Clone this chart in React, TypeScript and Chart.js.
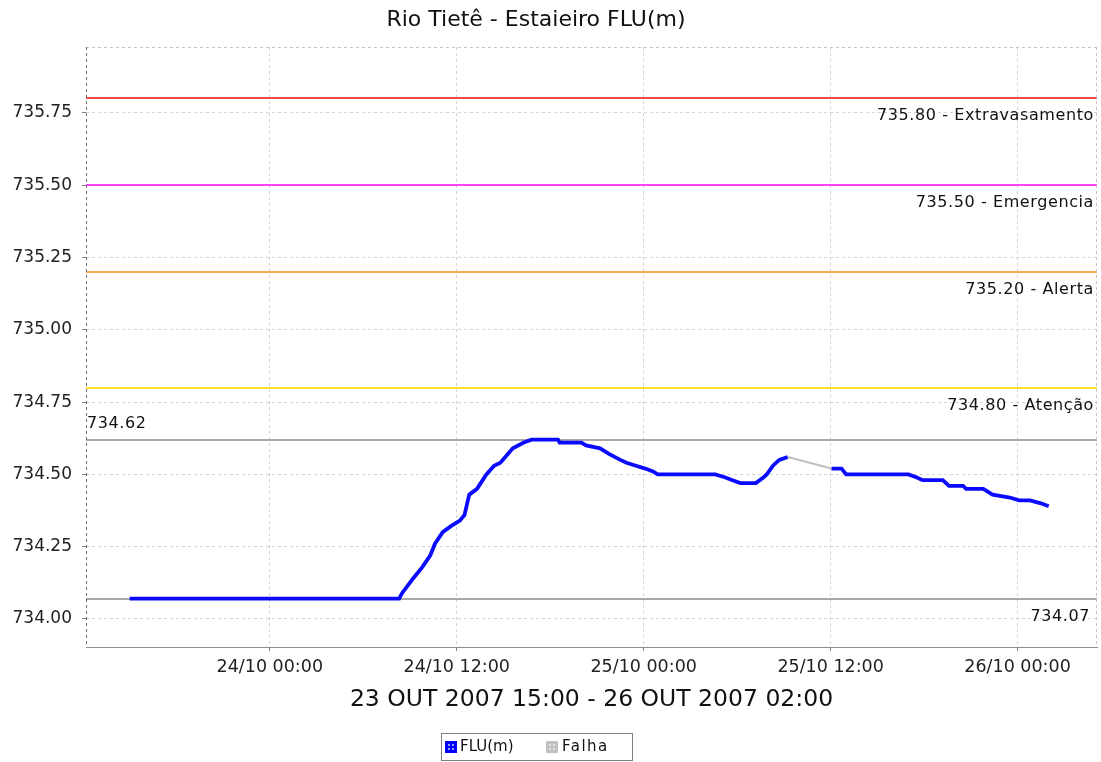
import React, { useEffect, useRef } from "react";
import { Chart, registerables } from "chart.js";

Chart.register(...registerables);

const chartTitle = "Rio Tietê - Estaieiro FLU(m)";
const xAxisTitle = "23 OUT 2007 15:00 - 26 OUT 2007 02:00";

// Hours relative to 24/10/2007 00:00
const fluHours = [
  -9, 8.3, 8.5, 9.2, 9.8, 10.3, 10.6, 11.1, 11.6, 12.2, 12.5, 12.8, 13.3, 13.9, 14.4, 14.8,
  15.6, 16.3, 16.8, 18.5, 18.6, 20.0, 20.3, 21.2, 21.8, 22.5, 22.9, 23.5, 24.1, 24.6, 24.9,
  28.6, 29.2, 29.7, 30.2, 31.2, 31.7, 31.9, 32.3, 32.7, 33.25, 34.6, 36.05, 36.7, 37.0,
  41.0, 41.5, 41.9, 43.2, 43.6, 44.5, 44.7, 45.8, 46.4, 47.5, 48.1, 48.8, 49.5, 50.0,
];
const fluValues = [
  734.07, 734.07, 734.09, 734.14, 734.18, 734.22, 734.26, 734.3, 734.32, 734.34, 734.36, 734.43,
  734.45, 734.5, 734.53, 734.54, 734.59, 734.61, 734.62, 734.62, 734.61, 734.61, 734.6, 734.59,
  734.57, 734.55, 734.54, 734.53, 734.52, 734.51, 734.5, 734.5, 734.49, 734.48, 734.47, 734.47,
  734.49, 734.5, 734.53, 734.55, 734.56, null, 734.52, 734.52, 734.5, 734.5, 734.49, 734.48,
  734.48, 734.46, 734.46, 734.45, 734.45, 734.43, 734.42, 734.41, 734.41, 734.4, 734.39,
];
const falhaHours = [33.25, 36.05];
const falhaValues = [734.56, 734.52];

const xTickHours = [0, 12, 24, 36, 48];
const xTickLabels = ["24/10 00:00", "24/10 12:00", "25/10 00:00", "25/10 12:00", "26/10 00:00"];
const yTickValues = [734.0, 734.25, 734.5, 734.75, 735.0, 735.25, 735.5, 735.75];

const thresholdValues = [735.8, 735.5, 735.2, 734.8];
const thresholdNames = ["Extravasamento", "Emergencia", "Alerta", "Atenção"];
const thresholdColors = ["#f04848", "#ff40ff", "#ffa858", "#ffe030"];
const maxObserved = 734.62;
const minObserved = 734.07;

const legendNames = ["FLU(m)", "Falha"];
const legendColors = ["#0000ff", "#c0c0c0"];

const FONT = '"DejaVu Sans", sans-serif';

const overlayPlugin = {
  id: "overlay",
  beforeDatasetsDraw(chart: any) {
    const { ctx, chartArea: a, scales } = chart;
    const y = scales.y;
    ctx.save();
    ctx.font = `16px ${FONT}`;
    (ctx as any).letterSpacing = "0.6px";
    ctx.textBaseline = "middle";
    thresholdValues.forEach((v, i) => {
      const py = Math.round(y.getPixelForValue(v));
      ctx.strokeStyle = thresholdColors[i];
      ctx.lineWidth = 2;
      ctx.beginPath();
      ctx.moveTo(a.left, py);
      ctx.lineTo(a.right, py);
      ctx.stroke();
      ctx.fillStyle = "#111";
      ctx.textAlign = "right";
      ctx.fillText(`${v.toFixed(2)} - ${thresholdNames[i]}`, a.right - 3, py + 18);
    });
    // max / min observed
    [maxObserved, minObserved].forEach((v, i) => {
      const py = Math.round(y.getPixelForValue(v));
      ctx.strokeStyle = "#a8a8a8";
      ctx.lineWidth = 2;
      ctx.beginPath();
      ctx.moveTo(a.left, py);
      ctx.lineTo(a.right, py);
      ctx.stroke();
      ctx.fillStyle = "#111";
      if (i === 0) {
        ctx.textAlign = "left";
        ctx.fillText(v.toFixed(2), a.left + 1, py - 16);
      } else {
        ctx.textAlign = "right";
        ctx.fillText(v.toFixed(2), a.right - 7, py + 18);
      }
    });
    ctx.restore();
  },
  afterDraw(chart: any) {
    const { ctx, chartArea: a } = chart;
    ctx.save();
    // plot outline (dashed)
    ctx.setLineDash([3, 3]);
    ctx.lineWidth = 1;
    ctx.strokeStyle = "#c4c4c4";
    ctx.beginPath();
    ctx.moveTo(a.left, a.top + 0.5);
    ctx.lineTo(a.right, a.top + 0.5);
    ctx.moveTo(a.right - 0.5, a.top);
    ctx.lineTo(a.right - 0.5, a.bottom);
    ctx.stroke();
    ctx.strokeStyle = "#707070";
    ctx.beginPath();
    ctx.moveTo(a.left + 0.5, a.top);
    ctx.lineTo(a.left + 0.5, a.bottom);
    ctx.stroke();
    ctx.setLineDash([]);

    // title
    ctx.fillStyle = "#111";
    ctx.textAlign = "center";
    ctx.textBaseline = "middle";
    ctx.font = `22px ${FONT}`;
    ctx.fillText(chartTitle, 536, 20);

    // x axis title
    ctx.font = `23.5px ${FONT}`;
    ctx.fillText(xAxisTitle, (a.left + a.right) / 2, 700);

    // legend
    const lx = 441, ly = 733, lw = 191, lh = 27;
    ctx.fillStyle = "#fff";
    ctx.fillRect(lx, ly, lw, lh);
    ctx.strokeStyle = "#808080";
    ctx.lineWidth = 1;
    ctx.strokeRect(lx + 0.5, ly + 0.5, lw, lh);
    const iconX = [445, 546];
    const textX = [460, 562];
    ctx.font = `15px ${FONT}`;
    ctx.textAlign = "left";
    legendNames.forEach((name, i) => {
      ctx.fillStyle = legendColors[i];
      ctx.fillRect(iconX[i], ly + 8, 12, 12);
      ctx.fillStyle = i === 0 ? "#9999ff" : "#e4e4e4";
      for (const dx of [3, 7]) for (const dy of [3, 7]) ctx.fillRect(iconX[i] + dx, ly + 8 + dy, 2, 2);
      ctx.fillStyle = "#111";
      (ctx as any).letterSpacing = i === 1 ? "1.5px" : "0px";
      ctx.fillText(name, textX[i], ly + 14);
    });
    ctx.restore();
  },
};

export default function App() {
  const canvasRef = useRef<HTMLCanvasElement>(null);

  useEffect(() => {
    if (!canvasRef.current) return;
    const fluData = fluHours.map((h, i) => ({ x: h, y: fluValues[i] }));
    const falhaData = falhaHours.map((h, i) => ({ x: h, y: falhaValues[i] }));

    const chart = new Chart(canvasRef.current, {
      type: "line",
      data: {
        datasets: [
          {
            label: "Falha",
            data: falhaData,
            borderColor: "#c0c0c0",
            borderWidth: 2,
            pointRadius: 0,
            fill: false,
          },
          {
            label: "FLU(m)",
            data: fluData as any,
            borderColor: "#0a0aff",
            borderWidth: 3.8,
            pointRadius: 0,
            spanGaps: false,
            fill: false,
          },
          {
            label: "FLU(m) texture",
            data: fluData as any,
            borderColor: "rgba(190,190,255,0.9)",
            borderWidth: 1,
            borderDash: [1, 4],
            pointRadius: 0,
            spanGaps: false,
            fill: false,
          },
        ],
      },
      options: {
        animation: false,
        responsive: false,
        devicePixelRatio: 1,
        layout: { padding: { top: 47, left: 0, right: 4, bottom: 0 } },
        plugins: {
          legend: { display: false },
          title: { display: false },
          tooltip: { enabled: false },
        },
        scales: {
          x: {
            type: "linear",
            min: -11.8,
            max: 53.1,
            afterBuildTicks: (s: any) => {
              s.ticks = xTickHours.map((v) => ({ value: v }));
            },
            afterFit: (s: any) => {
              s.height = 115;
            },
            ticks: {
              autoSkip: false,
              maxRotation: 0,
              padding: 6,
              color: "#222",
              font: { family: FONT, size: 17.5 },
              callback: (v: any) => xTickLabels[xTickHours.indexOf(Number(v))] ?? "",
            },
            grid: { color: "#d4d4d4", tickColor: "#808080", tickLength: 4 },
            border: { display: true, color: "#8c8c8c", width: 1, dash: [3, 3] },
          },
          y: {
            type: "linear",
            min: 733.903,
            max: 735.978,
            afterBuildTicks: (s: any) => {
              s.ticks = yTickValues.map((v) => ({ value: v }));
            },
            afterFit: (s: any) => {
              s.width = 86;
            },
            ticks: {
              padding: 10,
              color: "#222",
              font: { family: FONT, size: 17 },
              callback: (v: any) => Number(v).toFixed(2),
            },
            grid: { color: "#d4d4d4", tickColor: "#808080", tickLength: 4 },
            border: { display: false, dash: [3, 3] },
          },
        },
      },
      plugins: [overlayPlugin],
    });
    return () => chart.destroy();
  }, []);

  return (
    <div style={{ position: "absolute", left: 0, top: 0, width: 1101, height: 762, background: "#fff" }}>
      <canvas ref={canvasRef} width={1101} height={762} style={{ display: "block" }} />
    </div>
  );
}
